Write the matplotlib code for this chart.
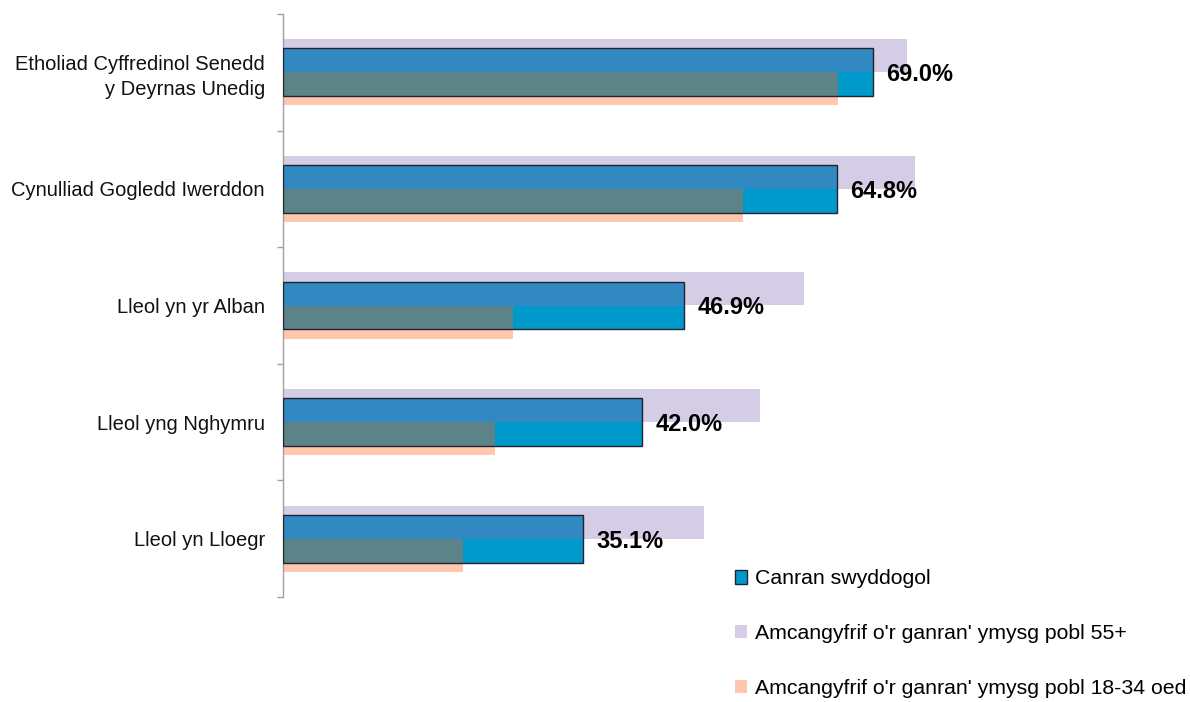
#!/usr/bin/env python3
import numpy as np
import matplotlib
matplotlib.use('Agg')
import matplotlib.pyplot as plt

plt.rcParams['font.family'] = ['Liberation Sans', 'DejaVu Sans']

categories = [
    'Etholiad Cyffredinol Senedd\ny Deyrnas Unedig',
    'Cynulliad Gogledd Iwerddon',
    'Lleol yn yr Alban',
    'Lleol yng Nghymru',
    'Lleol yn Lloegr',
]
official = [69.0, 64.8, 46.9, 42.0, 35.1]
older_55 = [72.9, 73.9, 60.9, 55.8, 49.2]
young_18_34 = [64.9, 53.8, 26.9, 24.8, 21.0]

series_labels = [
    'Canran swyddogol',
    "Amcangyfrif o'r ganran' ymysg pobl 55+",
    "Amcangyfrif o'r ganran' ymysg pobl 18-34 oed",
]

c_blue = '#0099CC'
c_lav = '#D5CDE5'
c_peach = '#FFC8AE'
c_blue_lav = '#3288C0'
c_blue_peach = '#5C8488'

blue_h = 0.41
side_h = 0.283
side_off = 0.142

fig = plt.figure(figsize=(11.9, 7.02), dpi=100)
ax = fig.add_axes([283 / 1190, 105 / 702, 1 - 283 / 1190, 583 / 702])

y = np.arange(len(categories))
off = np.array(official)
old = np.array(older_55)
yng = np.array(young_18_34)

# background bars
ax.barh(y - side_off, old, side_h, color=c_lav, zorder=1)
ax.barh(y + side_off, yng, side_h, color=c_peach, zorder=1)
# official bar, with overlap tints
ax.barh(y, off, blue_h, color=c_blue, zorder=2)
ax.barh(y - blue_h / 4, np.minimum(off, old), blue_h / 2, color=c_blue_lav, zorder=3)
ax.barh(y + blue_h / 4, np.minimum(off, yng), blue_h / 2, color=c_blue_peach, zorder=3)
ax.barh(y, off, blue_h, facecolor='none', edgecolor='#1f2430', linewidth=1.0, zorder=4)

for yi, v in zip(y, official):
    ax.text(v + 1.5, yi + 0.02, f'{v:.1f}%', ha='left', va='center',
            fontsize=17, fontweight='bold', color='black', zorder=5)

ax.set_xlim(0, 106)
ax.set_ylim(len(categories) - 0.5, -0.5)
ax.set_yticks(y)
ax.set_yticklabels(categories, fontsize=14.5, color='#111111', linespacing=1.35)
ax.set_yticks(np.arange(len(categories) + 1) - 0.5, minor=True)
ax.tick_params(axis='y', which='major', length=0, pad=13)
ax.tick_params(axis='y', which='minor', length=4, width=1, color='#A0A0A0', direction='out')
ax.set_xticks([])

for s in ['top', 'right', 'bottom']:
    ax.spines[s].set_visible(False)
ax.spines['left'].set_color('#A0A0A0')
ax.spines['left'].set_linewidth(1.0)

# legend
handles = [
    plt.Rectangle((0, 0), 1, 1, facecolor=c_blue, edgecolor='#1f2430', linewidth=1),
    plt.Rectangle((0, 0), 1, 1, facecolor=c_lav, edgecolor='none'),
    plt.Rectangle((0, 0), 1, 1, facecolor=c_peach, edgecolor='none'),
]
leg = fig.legend(handles, series_labels, loc='upper left',
                 bbox_to_anchor=(726 / 1190, 1 - 561 / 702), frameon=False,
                 fontsize=15.3, handlelength=0.6, handleheight=0.6,
                 handletextpad=0.35, labelspacing=1.68, borderaxespad=0)

fig.savefig('out.png', dpi=100)
